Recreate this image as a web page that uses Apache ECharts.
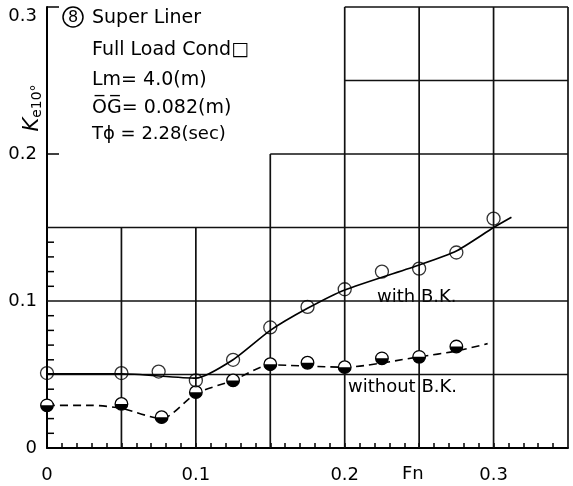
<!DOCTYPE html>
<html>
<head>
<meta charset="utf-8">
<script src="https://cdn.jsdelivr.net/npm/echarts@6/dist/echarts.min.js"></script>
<style>html,body{margin:0;padding:0;background:#fff}#c{width:573px;height:486px}</style>
</head>
<body>
<div id="c"></div>
<script>
// ---- data ----
const xTickValues = [0, 0.1, 0.2, 0.3];
const xTickLabels = ['0', '0.1', '0.2', '0.3'];
const yTickValues = [0, 0.1, 0.2, 0.3];
const yTickLabels = ['0', '0.1', '0.2', '0.3'];
const yMinorTicks = [0.01,0.02,0.03,0.04,0.06,0.07,0.08,0.09,0.11,0.12,0.13,0.14];
const yMajorTicks = [0.2, 0.3];

// with bilge keels (open circles)
const withBK_Fn  = [0, 0.05, 0.075, 0.1, 0.125, 0.15, 0.175, 0.2, 0.225, 0.25, 0.275, 0.3];
const withBK_K   = [0.051, 0.051, 0.052, 0.046, 0.060, 0.082, 0.096, 0.108, 0.120, 0.122, 0.133, 0.156];
// faired curve with B.K.
const withBKCurve_Fn = [0, 0.05, 0.1, 0.125, 0.15, 0.175, 0.2, 0.25, 0.275, 0.3, 0.312];
const withBKCurve_K  = [0.0505, 0.0505, 0.0475, 0.060, 0.080, 0.095, 0.1075, 0.1245, 0.134, 0.150, 0.157];

// without bilge keels (half-filled circles)
const woBK_Fn = [0, 0.05, 0.077, 0.1, 0.125, 0.15, 0.175, 0.2, 0.225, 0.25, 0.275];
const woBK_K  = [0.029, 0.030, 0.021, 0.038, 0.046, 0.057, 0.058, 0.055, 0.061, 0.062, 0.069];
// faired curve without B.K.
const woBKCurve_Fn = [0, 0.03, 0.05, 0.077, 0.1, 0.125, 0.15, 0.2, 0.25, 0.275, 0.296];
const woBKCurve_K  = [0.029, 0.029, 0.027, 0.020, 0.037, 0.046, 0.0565, 0.055, 0.062, 0.066, 0.071];

// stepped chart-paper grid: horizontal [y, x0, x1], vertical [x, y0, y1]
const gridH = [[0.05,0,0.35],[0.1,0,0.35],[0.15,0,0.35],[0.2,0.15,0.35],[0.25,0.2,0.35],[0.3,0.2,0.35]];
const gridV = [[0.05,0,0.15],[0.1,0,0.15],[0.15,0,0.2],[0.2,0,0.3],[0.25,0,0.3],[0.3,0,0.3],[0.35,0,0.3]];

const FONT = '"DejaVu Sans", "Noto Sans CJK JP", sans-serif';
const zip = (a, b) => a.map((v, i) => [v, b[i]]);
const segs = gridH.map(h => [h[1], h[0], h[2], h[0]]).concat(gridV.map(v => [v[0], v[1], v[0], v[2]]));
const labelFor = (vals, labs) => v => { const i = vals.findIndex(t => Math.abs(t - v) < 1e-6); return i >= 0 ? labs[i] : ''; };

const chart = echarts.init(document.getElementById('c'), null, {renderer: 'canvas'});
chart.setOption({
  animation: false,
  backgroundColor: '#fff',
  grid: {left: 47, right: 5, top: 7, bottom: 38, containLabel: false},
  xAxis: {
    type: 'value', min: 0, max: 0.35, interval: 0.01,
    splitLine: {show: false},
    axisLine: {lineStyle: {color: '#000', width: 2}},
    axisTick: {inside: true, length: 5, lineStyle: {color: '#000', width: 1.5}},
    axisLabel: {color: '#000', fontSize: 18, fontFamily: FONT, margin: 18, showMaxLabel: false,
                formatter: labelFor(xTickValues, xTickLabels), hideOverlap: false}
  },
  yAxis: {
    type: 'value', min: 0, max: 0.3, interval: 0.1,
    splitLine: {show: false},
    axisLine: {lineStyle: {color: '#000', width: 2}},
    axisTick: {show: false},
    axisLabel: {color: '#000', fontSize: 18, fontFamily: FONT, margin: 10, verticalAlignMaxLabel: 'top',
                formatter: labelFor(yTickValues, yTickLabels)}
  },
  series: [
    {
      type: 'custom', name: 'grid', silent: true, z: 1,
      data: segs,
      renderItem: (params, api) => {
        const a = api.coord([api.value(0), api.value(1)]);
        const b = api.coord([api.value(2), api.value(3)]);
        return {type: 'line', shape: {x1: a[0], y1: a[1], x2: b[0], y2: b[1]},
                style: {stroke: '#111', lineWidth: 1.7}};
      }
    },
    {
      type: 'custom', name: 'minorTicks', silent: true, z: 2,
      data: yMinorTicks.map(v => [v]),
      renderItem: (params, api) => {
        const p = api.coord([0, api.value(0)]);
        return {type: 'line', shape: {x1: p[0], y1: p[1], x2: p[0] + 7, y2: p[1]},
                style: {stroke: '#000', lineWidth: 1.5}};
      }
    },
    {
      type: 'custom', name: 'majorTicks', silent: true, z: 2,
      data: yMajorTicks.map(v => [v]),
      renderItem: (params, api) => {
        const p = api.coord([0, api.value(0)]);
        return {type: 'line', shape: {x1: p[0], y1: p[1], x2: p[0] + 12, y2: p[1]},
                style: {stroke: '#000', lineWidth: 1.5}};
      }
    },
    {
      type: 'line', name: 'with B.K. curve', data: zip(withBKCurve_Fn, withBKCurve_K),
      smooth: 0.2, showSymbol: false, symbol: 'none', z: 3,
      lineStyle: {color: '#000', width: 1.7, type: 'solid'}
    },
    {
      type: 'line', name: 'without B.K. curve', data: zip(woBKCurve_Fn, woBKCurve_K),
      smooth: 0.25, showSymbol: false, symbol: 'none', z: 3,
      lineStyle: {color: '#000', width: 1.6, type: [8, 5]}
    },
    {
      type: 'scatter', name: 'with B.K.', data: zip(withBK_Fn, withBK_K), z: 4,
      symbol: 'circle', symbolSize: 13,
      itemStyle: {color: 'rgba(255,255,255,0)', borderColor: '#000', borderWidth: 1.3}
    },
    {
      type: 'custom', name: 'without B.K.', data: zip(woBK_Fn, woBK_K), z: 4,
      renderItem: (params, api) => {
        const p = api.coord([api.value(0), api.value(1)]);
        const r = 6.3;
        return {type: 'group', children: [
          {type: 'circle', shape: {cx: p[0], cy: p[1], r: r}, style: {fill: '#fff', stroke: '#000', lineWidth: 1.3}},
          {type: 'sector', shape: {cx: p[0], cy: p[1], r0: 0, r: r, startAngle: 0, endAngle: Math.PI, clockwise: true},
           style: {fill: '#000'}}
        ]};
      }
    }
  ],
  graphic: [
    {type: 'circle', shape: {cx: 73, cy: 17, r: 10}, style: {fill: 'none', stroke: '#000', lineWidth: 1.5}},
    {type: 'text', x: 73, y: 18, style: {text: '8', fontSize: 16, fontFamily: FONT, fill: '#000', align: 'center', verticalAlign: 'middle'}},
    {type: 'text', left: 92, top: 9, style: {text: 'Super Liner', fontSize: 19, fontFamily: FONT, fill: '#000'}},
    {type: 'text', left: 92, top: 41, style: {text: 'Full Load Cond□', fontSize: 19, fontFamily: FONT, fill: '#000'}},
    {type: 'text', left: 92, top: 71, style: {text: 'Lm= 4.0(m)', fontSize: 19, fontFamily: FONT, fill: '#000'}},
    {type: 'text', left: 92, top: 99, style: {text: 'O\u0305G\u0305= 0.082(m)', fontSize: 19, fontFamily: FONT, fill: '#000'}},
    {type: 'text', left: 92, top: 125, style: {text: 'T\u03D5 = 2.28(sec)', fontSize: 18, fontFamily: FONT, fill: '#000'}},
    {type: 'text', left: 377, top: 288, style: {text: 'with B.K.', fontSize: 18, fontFamily: FONT, fill: '#000'}},
    {type: 'text', left: 348, top: 378, style: {text: 'without B.K.', fontSize: 18, fontFamily: FONT, fill: '#000'}},
    {type: 'text', left: 402, top: 465, style: {text: 'Fn', fontSize: 18, fontFamily: FONT, fill: '#000'}},
    {type: 'text', x: 33, y: 108, rotation: Math.PI / 2,
     style: {text: '{k|K}{s|e10°}', align: 'center', verticalAlign: 'middle', fontFamily: FONT, fill: '#000',
             rich: {k: {fontSize: 21, fontStyle: 'italic', fontFamily: FONT}, s: {fontSize: 14, fontFamily: FONT, padding: [9, 0, 0, 0]}}}}
  ]
});
</script>
</body>
</html>
